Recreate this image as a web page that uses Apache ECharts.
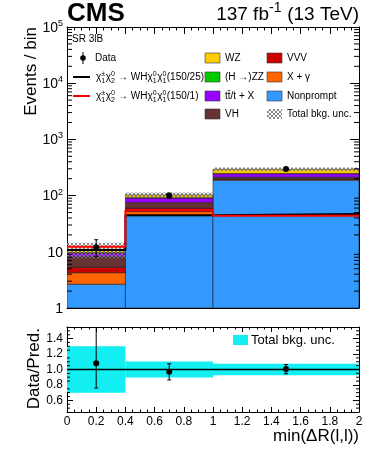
<!DOCTYPE html>
<html><head><meta charset="utf-8">
<script src="https://cdn.jsdelivr.net/npm/echarts@6/dist/echarts.min.js"></script>
<style>html,body{margin:0;padding:0;background:#fff}#c{width:374px;height:453px}</style>
</head><body><div id="c"></div>
<script>
// ---------- data ----------
const binEdges   = [0, 0.4, 1, 2];
const binCenters = [0.2, 0.7, 1.5];
const nonprompt  = [2.65, 44, 188];
const xgamma     = [1.6, 8, 5];
const vvv        = [1.05, 8, 7];
const vh         = [2.9, 15, 13];
const ttx        = [1.3, 16, 32];
const hzz        = [0.2, 1, 3];
const wz         = [1.4, 11, 46];
const relUnc     = [0.30, 0.105, 0.075];
const dataVals   = [12, 100, 297];
const dataLo     = [8.3, 90, 280];
const dataHi     = [16.4, 110, 315];
const sig150_25  = [10.8, 44.5, 47];
const sig150_1   = [12.3, 55, 44];
const ratioVals  = [1.08, 0.97, 1.006];
const ratioLo    = [0.76, 0.865, 0.945];
const ratioHi    = [1.62, 1.075, 1.065];
const xTicks     = [0, 0.2, 0.4, 0.6, 0.8, 1, 1.2, 1.4, 1.6, 1.8, 2];
const ratioTicks = [0.6, 0.8, 1.0, 1.2, 1.4];
const logDecades = [1, 10, 100, 1000, 10000, 100000];

const FONT = '"Liberation Sans", Arial, Helvetica, sans-serif';
const XMIN = binEdges[0], XMAX = binEdges[binEdges.length - 1];

const comps = [
  {name: 'Nonprompt', vals: nonprompt, color: '#3399ff'},
  {name: 'X + γ', vals: xgamma, color: '#ff6600'},
  {name: 'VVV', vals: vvv, color: '#cc0000'},
  {name: 'VH', vals: vh, color: '#663333'},
  {name: 'tt\u0304/t + X', vals: ttx, color: '#9900ff'},
  {name: '(H →)ZZ', vals: hzz, color: '#00cc00'},
  {name: 'WZ', vals: wz, color: '#ffcc00'}
];
const colorOf = {}; comps.forEach(c => colorOf[c.name] = c.color);

// hatch pattern
const pc = document.createElement('canvas'); pc.width = 4; pc.height = 4;
const pg = pc.getContext('2d'); pg.fillStyle = 'rgba(120,120,120,0.9)';
[[0,0],[1,1],[2,2],[3,3],[3,0],[2,1],[1,2],[0,3]].forEach(p => pg.fillRect(p[0], p[1], 1, 1));
const hatch = {image: pc, repeat: 'repeat'};

function rectItem(fillFn, stroke) {
  return function (params, api) {
    const p0 = api.coord([api.value(0), api.value(2)]);
    const p1 = api.coord([api.value(1), api.value(3)]);
    return {type: 'rect',
      shape: {x: p0[0], y: p1[1], width: p1[0] - p0[0], height: p0[1] - p1[1]},
      style: {fill: fillFn(api), stroke: stroke || null, lineWidth: stroke ? 0.6 : 0}};
  };
}

const series = [];
let cum = binCenters.map(() => 0);
comps.forEach((c, k) => {
  const d = c.vals.map((v, i) => [binEdges[i], binEdges[i + 1], Math.max(cum[i], 1), cum[i] + v]);
  cum = cum.map((s, i) => s + c.vals[i]);
  series.push({type: 'custom', name: c.name, xAxisIndex: 0, yAxisIndex: 0, z: 2,
    itemStyle: {color: c.color}, data: d, clip: true,
    renderItem: rectItem(api => api.visual('color'), '#222')});
});
const total = cum.slice();
// uncertainty hatch
series.push({type: 'custom', xAxisIndex: 0, yAxisIndex: 0, z: 3, clip: true,
  data: total.map((t, i) => [binEdges[i], binEdges[i + 1], t * (1 - relUnc[i]), t * (1 + relUnc[i])]),
  renderItem: rectItem(() => hatch)});
// signal lines
function stepPts(arr) {
  const pts = arr.map((v, i) => [binEdges[i], v]);
  pts.push([XMAX, arr[arr.length - 1]]);
  return pts;
}
series.push({type: 'line', xAxisIndex: 0, yAxisIndex: 0, z: 4, step: 'end', showSymbol: false, symbol: 'none',
  data: stepPts(sig150_25), lineStyle: {color: '#000', width: 2}, animation: false});
series.push({type: 'line', xAxisIndex: 0, yAxisIndex: 0, z: 4, step: 'end', showSymbol: false, symbol: 'none',
  data: stepPts(sig150_1), lineStyle: {color: '#ff0000', width: 2}, animation: false});

function pointItem(r) {
  return function (params, api) {
    const c = api.coord([api.value(0), api.value(1)]);
    const lo = api.coord([api.value(0), api.value(2)]);
    const hi = api.coord([api.value(0), api.value(3)]);
    return {type: 'group', children: [
      {type: 'line', shape: {x1: c[0], y1: lo[1], x2: c[0], y2: hi[1]}, style: {stroke: '#000', lineWidth: 1}},
      {type: 'line', shape: {x1: c[0] - 2, y1: lo[1], x2: c[0] + 2, y2: lo[1]}, style: {stroke: '#000', lineWidth: 1}},
      {type: 'line', shape: {x1: c[0] - 2, y1: hi[1], x2: c[0] + 2, y2: hi[1]}, style: {stroke: '#000', lineWidth: 1}},
      {type: 'circle', shape: {cx: c[0], cy: c[1], r: r}, style: {fill: '#000'}}
    ]};
  };
}
series.push({type: 'custom', xAxisIndex: 0, yAxisIndex: 0, z: 5, clip: true,
  data: binCenters.map((x, i) => [x, dataVals[i], dataLo[i], dataHi[i]]), renderItem: pointItem(3)});

// log minor ticks (left & right)
const logMinor = [];
logDecades.slice(0, -1).forEach(d => { for (let k = 2; k <= 9; k++) logMinor.push(k * d); });
series.push({type: 'custom', xAxisIndex: 0, yAxisIndex: 0, z: 6,
  data: logMinor.map(v => [v]),
  renderItem: (p, api) => {
    const l = api.coord([XMIN, api.value(0)]), r = api.coord([XMAX, api.value(0)]);
    return {type: 'group', children: [
      {type: 'line', shape: {x1: l[0], y1: l[1], x2: l[0] + 5, y2: l[1]}, style: {stroke: '#000', lineWidth: 1}},
      {type: 'line', shape: {x1: r[0] - 5, y1: r[1], x2: r[0], y2: r[1]}, style: {stroke: '#000', lineWidth: 1}}
    ]};
  }});

// ratio panel
series.push({type: 'custom', xAxisIndex: 2, yAxisIndex: 2, z: 2, clip: true,
  data: relUnc.map((u, i) => [binEdges[i], binEdges[i + 1], 1 - u, 1 + u]),
  renderItem: rectItem(() => '#12eef2')});
series.push({type: 'custom', xAxisIndex: 2, yAxisIndex: 2, z: 3, data: [[XMIN, XMAX, 1]],
  renderItem: (p, api) => {
    const a = api.coord([api.value(0), api.value(2)]), b = api.coord([api.value(1), api.value(2)]);
    return {type: 'line', shape: {x1: a[0], y1: a[1], x2: b[0], y2: b[1]}, style: {stroke: '#000', lineWidth: 1.5}};
  }});
series.push({type: 'custom', xAxisIndex: 2, yAxisIndex: 2, z: 5, clip: true,
  data: binCenters.map((x, i) => [x, ratioVals[i], ratioLo[i], ratioHi[i]]), renderItem: pointItem(3)});
const ratioMinor = [];
for (let v = 0.5; v < 1.55; v += 0.05) { const rv = Math.round(v * 100) / 100; if (!ratioTicks.some(t => Math.abs(t - rv) < 1e-6)) ratioMinor.push(rv); }
series.push({type: 'custom', xAxisIndex: 2, yAxisIndex: 2, z: 6,
  data: ratioMinor.map(v => [v]),
  renderItem: (p, api) => {
    const l = api.coord([XMIN, api.value(0)]), r = api.coord([XMAX, api.value(0)]);
    return {type: 'group', children: [
      {type: 'line', shape: {x1: l[0], y1: l[1], x2: l[0] + 3, y2: l[1]}, style: {stroke: '#000', lineWidth: 1}},
      {type: 'line', shape: {x1: r[0] - 3, y1: r[1], x2: r[0], y2: r[1]}, style: {stroke: '#000', lineWidth: 1}}
    ]};
  }});

// ---------- text helpers ----------
const mctx = document.createElement('canvas').getContext('2d');
function tw(t, size, weight) { mctx.font = (weight || 'normal') + ' ' + size + 'px ' + FONT; return mctx.measureText(t).width; }
function txt(x, y, text, size, opt) {
  opt = opt || {};
  return {type: 'text', x: x, y: y, rotation: opt.rotation || 0, silent: true, z: 100,
    style: {text: text, fontSize: size, fontFamily: FONT, fontWeight: opt.weight || 'normal', fill: '#000',
      align: opt.align || 'left', verticalAlign: opt.va || 'middle'}};
}
function richLine(x, y, size, tokens, align) {
  const ss = Math.round(size * 0.72);
  const widths = tokens.map(tk => tk.t !== undefined ? tw(tk.t, size) : Math.max(tk.sup ? tw(tk.sup, ss) : 0, tk.sub ? tw(tk.sub, ss) : 0) + 0.5);
  const totalW = widths.reduce((a, b) => a + b, 0);
  let cx = align === 'right' ? x - totalW : x;
  const els = [];
  tokens.forEach((tk, i) => {
    if (tk.t !== undefined) els.push(txt(cx, y, tk.t, size));
    else {
      if (tk.sup) els.push(txt(cx, y - size * 0.38, tk.sup, ss));
      if (tk.sub) els.push(txt(cx, y + size * 0.32, tk.sub, ss));
    }
    cx += widths[i];
  });
  return els;
}
function sigTokens(label) {
  return [{t: 'χ'}, {sup: '±', sub: '1'}, {t: 'χ'}, {sup: '0', sub: '2'}, {t: ' → WH'},
    {t: 'χ'}, {sup: '0', sub: '1'}, {t: 'χ'}, {sup: '0', sub: '1'}, {t: label}];
}

const G = [];
G.push(txt(67, 13.5, 'CMS', 26, {weight: 'bold'}));
richLine(359, 15, 19, [{t: '137 fb'}, {sup: '-1'}, {t: ' (13 TeV)'}], 'right').forEach(e => G.push(e));
G.push(txt(31, 27, 'Events / bin', 17, {rotation: Math.PI / 2, align: 'right'}));
G.push(txt(34, 328, 'Data/Pred.', 17, {rotation: Math.PI / 2, align: 'right'}));
G.push(txt(359, 436, 'min(ΔR(l,l))', 17, {align: 'right'}));
G.push(txt(72, 39, 'SR 3lB', 10));
// legend: data
G.push({type: 'line', shape: {x1: 83, y1: 52, x2: 83, y2: 64}, style: {stroke: '#000', lineWidth: 1}, z: 100});
G.push({type: 'circle', shape: {cx: 83, cy: 58, r: 2.8}, style: {fill: '#000'}, z: 100});
G.push(txt(95, 58.5, 'Data', 10));
G.push({type: 'line', shape: {x1: 73, y1: 77, x2: 90, y2: 77}, style: {stroke: '#000', lineWidth: 2}, z: 100});
richLine(96, 77.5, 10, sigTokens('(150/25)')).forEach(e => G.push(e));
G.push({type: 'line', shape: {x1: 73, y1: 96, x2: 90, y2: 96}, style: {stroke: '#ff0000', lineWidth: 2}, z: 100});
richLine(96, 96.5, 10, sigTokens('(150/1)')).forEach(e => G.push(e));
const legCols = [
  {x: 205, names: ['WZ', '(H →)ZZ', 'tt\u0304/t + X', 'VH']},
  {x: 267, names: ['VVV', 'X + γ', 'Nonprompt', 'Total bkg. unc.']}
];
const rowsY = [58, 77, 96, 114];
legCols.forEach(col => col.names.forEach((n, j) => {
  const fill = n === 'Total bkg. unc.' ? hatch : colorOf[n];
  G.push({type: 'rect', shape: {x: col.x, y: rowsY[j] - 5, width: 15, height: 10},
    style: {fill: fill, stroke: n === 'Total bkg. unc.' ? null : '#333', lineWidth: 0.6}, z: 100});
  G.push(txt(col.x + 20, rowsY[j] + 0.5, n, 10));
}));
// ratio legend
G.push({type: 'rect', shape: {x: 233, y: 335, width: 15, height: 10}, style: {fill: '#12eef2'}, z: 100});
G.push(txt(251, 340.5, 'Total bkg. unc.', 13));

// ---------- axes ----------
const axLine = {show: true, onZero: false, lineStyle: {color: '#000', width: 1}};
function xAx(grid, pos, labels, tickLen) {
  return {type: 'value', gridIndex: grid, position: pos, min: XMIN, max: XMAX, interval: 0.2,
    axisLine: axLine, splitLine: {show: false},
    axisTick: {show: true, inside: true, length: tickLen, lineStyle: {color: '#000'}},
    minorTick: {show: true, splitNumber: 4, length: tickLen / 2, lineStyle: {color: '#000'}},
    axisLabel: labels ? {show: true, fontSize: 12, fontFamily: FONT, color: '#000', margin: 4,
      customValues: xTicks, formatter: v => String(Math.round(v * 10) / 10)} : {show: false}};
}
const supRich = {b: {fontSize: 14, fontFamily: FONT, color: '#000', verticalAlign: 'bottom', lineHeight: 16},
                 s: {fontSize: 9, fontFamily: FONT, color: '#000', verticalAlign: 'top', lineHeight: 16}};
function logFmt(v) {
  const e = Math.round(Math.log10(v));
  if (e === 0) return '{b|1}';
  if (e === 1) return '{b|10}';
  return '{b|10}{s|' + e + '}';
}
function yLog(pos, labels) {
  return {type: 'log', gridIndex: 0, position: pos, min: logDecades[0], max: logDecades[logDecades.length - 1], logBase: 10,
    splitNumber: 5, axisLine: axLine, splitLine: {show: false},
    axisTick: {show: true, inside: true, length: 9, lineStyle: {color: '#000'}},
    axisLabel: labels ? {show: true, formatter: logFmt, rich: supRich, margin: 4, showMinLabel: true, showMaxLabel: true} : {show: false}};
}
function yRatio(pos, labels) {
  return {type: 'value', gridIndex: 1, position: pos, min: 0.45, max: 1.55,
    axisLine: axLine, splitLine: {show: false},
    axisTick: {show: true, inside: true, length: 6, customValues: ratioTicks, lineStyle: {color: '#000'}},
    axisLabel: labels ? {show: true, customValues: ratioTicks, fontSize: 12, fontFamily: FONT, color: '#000', margin: 4,
      formatter: v => v.toFixed(1)} : {show: false}};
}

const chart = echarts.init(document.getElementById('c'), null, {renderer: 'canvas'});
chart.setOption({
  animation: false,
  backgroundColor: '#fff',
  grid: [
    {left: 67, top: 27, width: 292, height: 281, containLabel: false},
    {left: 67, top: 327, width: 292, height: 85, containLabel: false}
  ],
  xAxis: [xAx(0, 'bottom', false, 7), xAx(0, 'top', false, 7), xAx(1, 'bottom', true, 5), xAx(1, 'top', false, 5)],
  yAxis: [yLog('left', true), yLog('right', false), yRatio('left', true), yRatio('right', false)],
  series: series,
  graphic: {elements: G}
});
</script>
</body></html>
